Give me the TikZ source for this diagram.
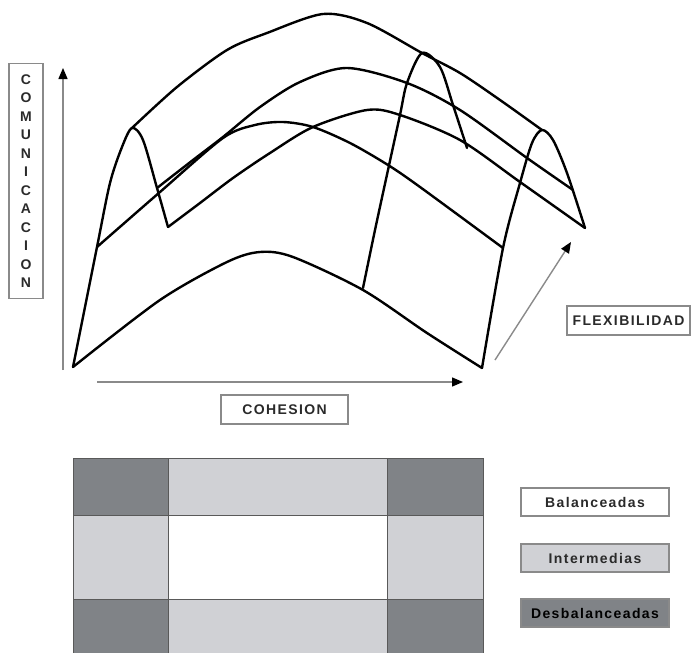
\documentclass[tikz,border=0pt]{standalone}
\usepackage{fontspec}
\setmainfont{Liberation Sans}
\newfontfamily\lblfont[LetterSpace=10]{Liberation Sans}
\usetikzlibrary{arrows.meta, positioning}
\definecolor{CellDark}{HTML}{808387}
\definecolor{CellLight}{HTML}{D0D1D5}
\definecolor{LineGrey}{HTML}{8A8A8A}
\definecolor{TextGrey}{HTML}{2A2A2A}

\begin{document}
\begin{tikzpicture}[
        x=1pt, y=-1pt,
        surf/.style={line width=2.4pt, line join=round, line cap=round},
        axis/.style={draw=LineGrey, line width=1.4pt, -{Triangle[length=11pt, width=9pt, black]}},
        lbl/.style={draw=LineGrey, line width=1.2pt, inner sep=0pt, text=TextGrey, font=\lblfont\bfseries\fontsize{14}{18.5}\selectfont},
        cell/.style={draw=black!65, line width=0.8pt, anchor=north west, inner sep=0pt},
        key/.style={draw=LineGrey, line width=1.2pt, minimum width=148pt, minimum height=28pt, inner sep=0pt, text=TextGrey, font=\lblfont\bfseries\fontsize{14}{14}\selectfont}
    ]
        \useasboundingbox (0,0) rectangle (691,653);

        % surface
        \draw[surf] plot[smooth] coordinates {(73,367) (97,247) (110,183) (122,147) (132,128) (143,140) (157,188) (168,227)};
        \draw[surf] plot[smooth] coordinates {(363,288) (375,230) (388,170) (400,115) (407,83) (422,53) (440,67) (453,105) (467,148)};
        \draw[surf] plot[smooth] coordinates {(482,368) (503,248) (520,183) (532,143) (542,130) (553,140) (567,173) (585,228)};
        \draw[surf] plot[smooth] coordinates {(73,367) (160,300) (227,262) (260,252) (293,257) (363,290) (427,333) (482,368)};
        \draw[surf] plot[smooth] coordinates {(97,247) (160,192) (223,138) (255,125) (283,122) (313,127) (350,143) (388,165) (420,187) (503,248)};
        \draw[surf] plot[smooth] coordinates {(168,227) (200,203) (233,178) (270,153) (313,127) (367,110) (400,115) (460,140) (520,182) (585,228)};
        \draw[surf] plot[smooth] coordinates {(157,188) (193,160) (223,137) (260,107) (300,82) (347,68) (407,83) (460,110) (527,158) (573,190)};
        \draw[surf] plot[smooth] coordinates {(132,128) (177,87) (227,50) (267,33) (323,14) (367,23) (422,53) (460,73) (500,100) (542,130)};

        % axes
        \coordinate (orig) at (63,370);
        \coordinate (ytip) at (63,68);
        \coordinate (xstart) at (97,382);
        \coordinate (xtip) at (463,382);
        \coordinate (zstart) at (495,360);
        \coordinate (ztip) at (571,242);
        \draw[axis] (orig) -- (ytip);
        \draw[axis] (xstart) -- (xtip);
        \draw[axis] (zstart) -- (ztip);

        \node[lbl, minimum width=34pt, minimum height=235pt, align=center] (comm) at (26,181) {C\\O\\M\\U\\N\\I\\C\\A\\C\\I\\O\\N};
        \node[lbl, minimum width=127pt, minimum height=29pt] (coh) at (284.5,409.5) {COHESION};
        \node[lbl, minimum width=123pt, minimum height=29pt] (flex) at (628.5,320.5) {FLEXIBILIDAD};

        % grid
        \begin{scope}
            \clip (0,0) rectangle (691,653);
            \node[cell, fill=CellDark, minimum width=95pt, minimum height=57pt] (c11) at (73,458) {};
            \node[cell, fill=CellLight, minimum width=219pt, minimum height=57pt] (c12) at (168,458) {};
            \node[cell, fill=CellDark, minimum width=96pt, minimum height=57pt] (c13) at (387,458) {};
            \node[cell, fill=CellLight, minimum width=95pt, minimum height=84pt] (c21) at (73,515) {};
            \node[cell, fill=white, minimum width=219pt, minimum height=84pt] (c22) at (168,515) {};
            \node[cell, fill=CellLight, minimum width=96pt, minimum height=84pt] (c23) at (387,515) {};
            \node[cell, fill=CellDark, minimum width=95pt, minimum height=65pt] (c31) at (73,599) {};
            \node[cell, fill=CellLight, minimum width=219pt, minimum height=65pt] (c32) at (168,599) {};
            \node[cell, fill=CellDark, minimum width=96pt, minimum height=65pt] (c33) at (387,599) {};
        \end{scope}

        \node[key, fill=white] (bal) at (595,502) {Balanceadas};
        \node[key, fill=CellLight] (inter) at (595,558) {Intermedias};
        \node[key, fill=CellDark, text=black] (desb) at (595,613) {Desbalanceadas};
    \end{tikzpicture}
\end{document}
